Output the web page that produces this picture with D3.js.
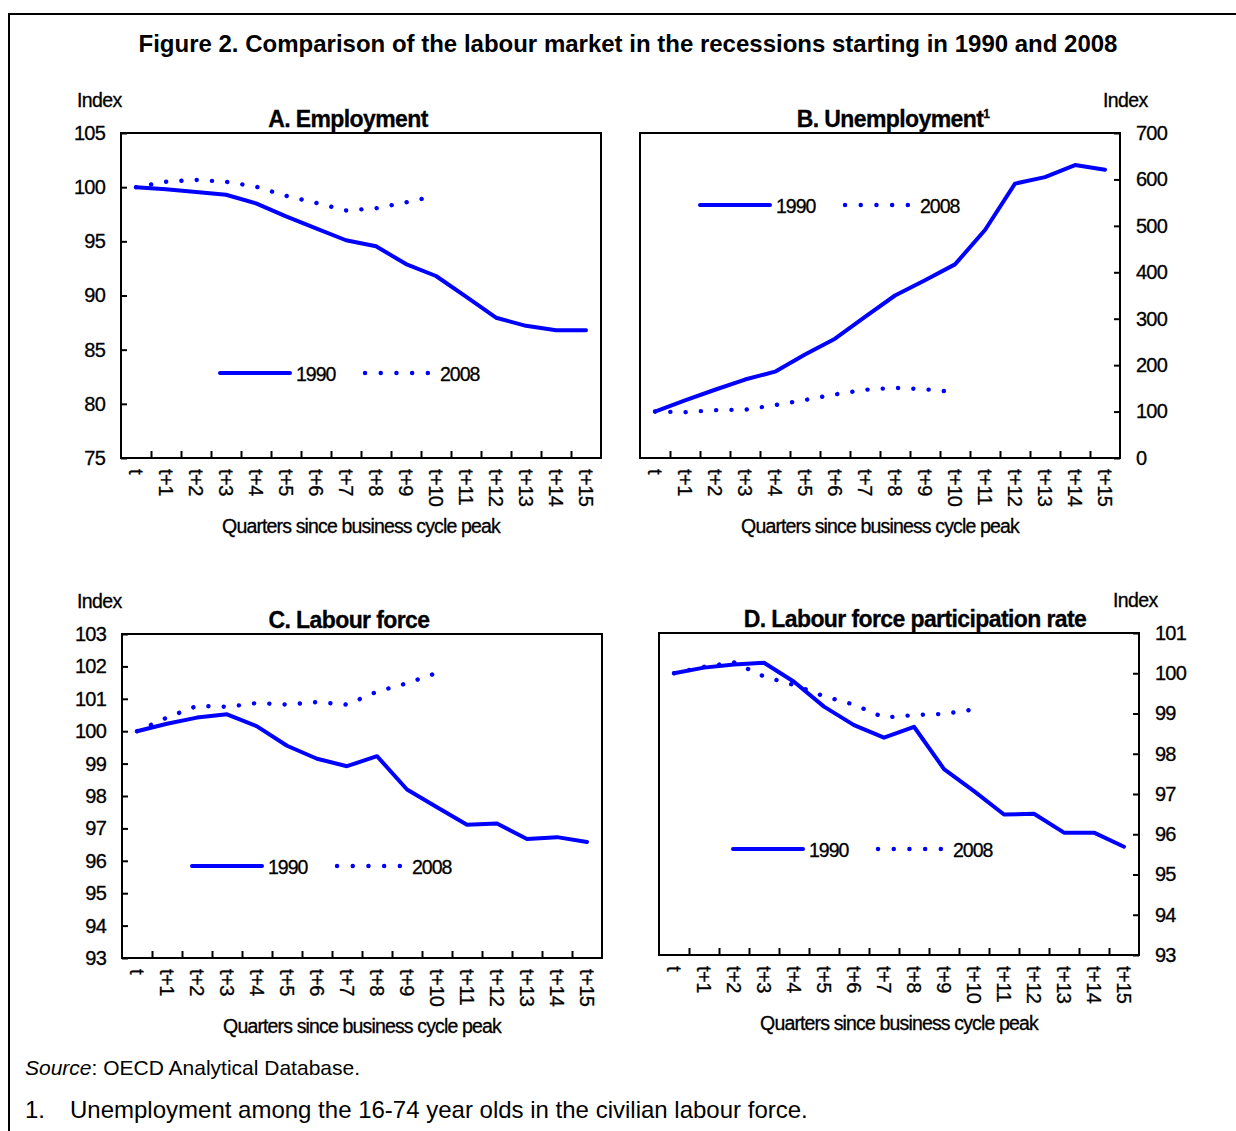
<!DOCTYPE html>
<html lang="en">
<head>
<meta charset="utf-8">
<title>Figure 2. Comparison of the labour market</title>
<script src="https://d3js.org/d3.v7.min.js"></script>
<style>
    body { margin: 0; background: #fff; }
    svg { display: block; font-family: "Liberation Sans", Arial, sans-serif; }
    .tick text { font-size: 20px; letter-spacing: -0.8px; fill: #000; stroke: #000; stroke-width: 0.3px; }
    .domain { display: none; }
    .tick line { stroke: #000; stroke-width: 2px; }
    .lbl { stroke: #000; stroke-width: 0.3px; }
</style>
</head>
<body>
<div id="chart"></div>
<script>
    // quarters since business cycle peak
    const quarters = ["t", "t+1", "t+2", "t+3", "t+4", "t+5", "t+6", "t+7",
                      "t+8", "t+9", "t+10", "t+11", "t+12", "t+13", "t+14", "t+15"];

    // A. Employment
    const employment1990 = [100, 99.8, 99.55, 99.3, 98.5, 97.3, 96.2, 95.1, 94.55, 92.9, 91.8, 89.9, 87.95, 87.2, 86.8, 86.8];
    const employment2008 = [100, 100.5, 100.67, 100.5, 100.05, 99.2, 98.55, 97.85, 98.05, 98.6, 99.2];

    // B. Unemployment
    const unemployment1990 = [100, 124, 147, 169, 186, 223, 257, 304, 350, 383, 417, 491, 591, 605, 631, 621];
    const unemployment2008 = [100, 98.6, 103, 104, 114, 125, 137, 147, 151, 148, 142];

    // C. Labour force
    const labourForce1990 = [100, 100.23, 100.42, 100.52, 100.15, 99.55, 99.15, 98.92, 99.23, 98.2, 97.65, 97.11, 97.15, 96.67, 96.73, 96.58];
    const labourForce2008 = [100, 100.42, 100.78, 100.75, 100.87, 100.82, 100.9, 100.82, 101.22, 101.48, 101.8];

    // D. Labour force participation rate
    const participation1990 = [100, 100.14, 100.22, 100.26, 99.79, 99.17, 98.71, 98.4, 98.67, 97.62, 97.07, 96.49, 96.51, 96.04, 96.04, 95.69];
    const participation2008 = [100, 100.16, 100.27, 99.92, 99.71, 99.43, 99.22, 98.9, 98.96, 98.99, 99.1];

    const seriesNames = ["1990", "2008"];

    const yTicksA = [75, 80, 85, 90, 95, 100, 105];
    const yTicksB = [0, 100, 200, 300, 400, 500, 600, 700];
    const yTicksC = [93, 94, 95, 96, 97, 98, 99, 100, 101, 102, 103];
    const yTicksD = [93, 94, 95, 96, 97, 98, 99, 100, 101];

    const blue = "#0000ff";
    const W = 1236, H = 1131;

    const svg = d3.select("#chart").append("svg")
        .attr("width", W)
        .attr("height", H);

    // outer frame (top and left edges)
    svg.append("path")
        .attr("d", `M9,${H} L9,14 L${W},14`)
        .attr("fill", "none")
        .attr("stroke", "#000")
        .attr("stroke-width", 2);

    svg.append("text")
        .attr("x", 628).attr("y", 52)
        .attr("text-anchor", "middle")
        .style("font-size", "24px")
        .style("font-weight", "bold")
        .text("Figure 2. Comparison of the labour market in the recessions starting in 1990 and 2008");

    const panels = [
        {title: "A. Employment", sup: "", left: 121, top: 133, bottom: 458, axis: "left", titleDx: -13, indexX: -44,
         ticks: yTicksA, s1990: employment1990, s2008: employment2008, legendX: 220, legendY: 373},
        {title: "B. Unemployment", sup: "1", left: 640, top: 133, bottom: 458, axis: "right", titleDx: 13, indexX: 463,
         ticks: yTicksB, s1990: unemployment1990, s2008: unemployment2008, legendX: 700, legendY: 205},
        {title: "C. Labour force", sup: "", left: 122, top: 634, bottom: 958, axis: "left", titleDx: -13, indexX: -45,
         ticks: yTicksC, s1990: labourForce1990, s2008: labourForce2008, legendX: 192, legendY: 866},
        {title: "D. Labour force participation rate", sup: "", left: 659, top: 633, bottom: 955, axis: "right", titleDx: 16, indexX: 454,
         ticks: yTicksD, s1990: participation1990, s2008: participation2008, legendX: 733, legendY: 849}
    ];

    panels.forEach(drawPanel);

    function drawPanel(p) {
        const w = 480, h = p.bottom - p.top;
        const g = svg.append("g").attr("transform", `translate(${p.left},${p.top})`);

        const x = d3.scaleBand().domain(quarters).range([0, w]);
        const xEdge = d3.scaleLinear().domain([0, quarters.length]).range([0, w]);
        const y = d3.scaleLinear().domain(d3.extent(p.ticks)).range([h, 0]);
        const cx = (d, i) => x(quarters[i]) + x.bandwidth() / 2;

        // y axis, ticks pointing into the plot
        const yAxis = p.axis === "left"
            ? d3.axisLeft(y).tickSize(-6).tickPadding(16)
            : d3.axisRight(y).tickSize(-6).tickPadding(16);
        g.append("g")
            .attr("transform", p.axis === "left" ? null : `translate(${w},0)`)
            .call(yAxis.tickValues(p.ticks).tickFormat(d3.format("d")));

        // x tick marks between the quarters
        g.append("g")
            .attr("transform", `translate(0,${h})`)
            .call(d3.axisBottom(xEdge).tickValues(d3.range(1, quarters.length)).tickSize(-7).tickFormat(""));

        // x labels, rotated
        g.append("g")
            .attr("transform", `translate(0,${h})`)
            .call(d3.axisBottom(x).tickSize(0))
            .selectAll("text")
            .attr("transform", "rotate(90)")
            .attr("x", 11)
            .attr("y", 0)
            .attr("dy", "0.36em")
            .style("text-anchor", "start")
            .style("letter-spacing", "-0.5px");

        g.append("rect")
            .attr("width", w).attr("height", h)
            .attr("fill", "none")
            .attr("stroke", "#000")
            .attr("stroke-width", 2);

        const line = d3.line().x(cx).y(d => y(d));

        g.append("path")
            .datum(p.s1990)
            .attr("d", line)
            .attr("fill", "none")
            .attr("stroke", blue)
            .attr("stroke-width", 4)
            .attr("stroke-linejoin", "round")
            .attr("stroke-linecap", "round");

        g.append("path")
            .datum(p.s2008)
            .attr("d", line)
            .attr("fill", "none")
            .attr("stroke", blue)
            .attr("stroke-width", 4.4)
            .attr("stroke-dasharray", "0.1,15.2")
            .attr("stroke-linecap", "round");

        // panel title
        const t = g.append("text")
            .attr("class", "lbl")
            .attr("x", w / 2 + p.titleDx).attr("y", -6)
            .attr("text-anchor", "middle")
            .style("font-size", "23px")
            .style("font-weight", "bold")
            .style("letter-spacing", "-0.6px")
            .text(p.title);
        if (p.sup) {
            t.append("tspan")
                .attr("dy", -9)
                .style("font-size", "12px")
                .text(p.sup);
        }

        // "Index" label
        g.append("text")
            .attr("class", "lbl")
            .attr("x", p.indexX)
            .attr("y", -26)
            .style("font-size", "19.5px")
            .style("letter-spacing", "-0.6px")
            .text("Index");

        // x axis title
        g.append("text")
            .attr("class", "lbl")
            .attr("x", w / 2).attr("y", h + 75)
            .attr("text-anchor", "middle")
            .style("font-size", "19.5px")
            .style("letter-spacing", "-0.85px")
            .text("Quarters since business cycle peak");

        // legend
        const lg = svg.append("g").attr("transform", `translate(${p.legendX},${p.legendY})`);
        lg.append("line")
            .attr("x1", 0).attr("x2", 70)
            .attr("stroke", blue).attr("stroke-width", 4)
            .attr("stroke-linecap", "round");
        lg.append("line")
            .attr("x1", 145).attr("x2", 208)
            .attr("stroke", blue).attr("stroke-width", 4.4)
            .attr("stroke-dasharray", "0.1,15.6")
            .attr("stroke-linecap", "round");
        lg.selectAll("text.lab")
            .data(seriesNames)
            .join("text")
            .attr("class", "lab lbl")
            .attr("x", (d, i) => i === 0 ? 76 : 220)
            .attr("y", 8)
            .style("font-size", "19.5px")
            .style("letter-spacing", "-1px")
            .text(d => d);
    }

    // source and note
    const src = svg.append("text")
        .attr("x", 25).attr("y", 1075)
        .style("font-size", "21px");
    src.append("tspan").style("font-style", "italic").text("Source");
    src.append("tspan").text(": OECD Analytical Database.");

    svg.append("text")
        .attr("x", 25).attr("y", 1118)
        .style("font-size", "24px")
        .text("1.");
    svg.append("text")
        .attr("x", 70).attr("y", 1118)
        .style("font-size", "24px")
        .text("Unemployment among the 16-74 year olds in the civilian labour force.");
</script>
</body>
</html>
